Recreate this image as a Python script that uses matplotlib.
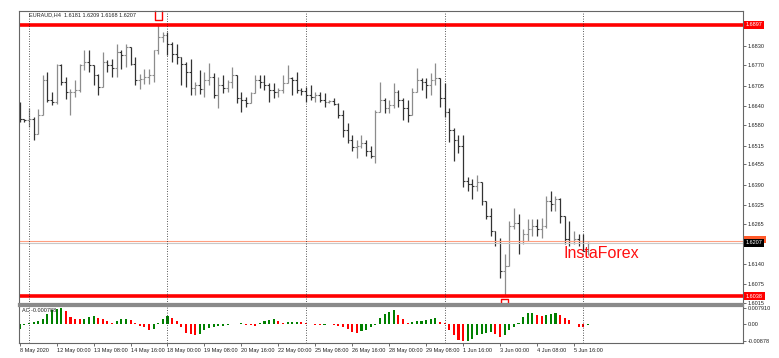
import numpy as np
import matplotlib
matplotlib.use("Agg")
import matplotlib.pyplot as plt
import matplotlib.transforms as mtrans
from matplotlib.patches import Rectangle

# === DATOS: EURAUD H4, 8 May 2020 -> 8 Jun 2020 ===
opens = [1.6627,1.6598,1.6595,1.6598,1.6553,1.6611,1.6722,1.6658,1.6652,1.6770,
         1.6716,1.6684,1.6684,1.6690,1.6770,1.6779,1.6770,1.6738,1.6700,1.6779,
         1.6770,1.6760,1.6811,1.6801,1.6827,1.6773,1.6722,1.6725,1.6732,1.6738,
         1.6817,1.6859,1.6865,1.6836,1.6804,1.6795,1.6773,1.6747,1.6697,1.6706,
         1.6694,1.6722,1.6732,1.6674,1.6706,1.6697,1.6716,1.6738,1.6665,1.6658,
         1.6649,1.6681,1.6722,1.6716,1.6706,1.6690,1.6684,1.6690,1.6713,1.6728,
         1.6722,1.6690,1.6687,1.6674,1.6668,1.6674,1.6658,1.6652,1.6655,1.6646,
         1.6611,1.6563,1.6531,1.6509,1.6515,1.6522,1.6499,1.6483,1.6620,1.6658,
         1.6633,1.6642,1.6684,1.6658,1.6633,1.6611,1.6684,1.6722,1.6716,1.6706,
         1.6722,1.6728,1.6665,1.6620,1.6563,1.6531,1.6515,1.6404,1.6394,1.6388,
         1.6398,1.6340,1.6293,1.6245,1.6213,1.6118,1.6134,1.6261,1.6270,1.6213,
         1.6236,1.6251,1.6261,1.6251,1.6261,1.6340,1.6331,1.6347,1.6293,1.6220,
         1.6213,1.6220,1.6213,1.6181]
highs = [1.6652,1.6598,1.6633,1.6604,1.6630,1.6738,1.6747,1.6684,1.6773,1.6773,
         1.6732,1.6694,1.6722,1.6773,1.6817,1.6817,1.6770,1.6741,1.6811,1.6785,
         1.6789,1.6836,1.6817,1.6836,1.6827,1.6795,1.6741,1.6757,1.6757,1.6817,
         1.6897,1.6875,1.6875,1.6843,1.6836,1.6795,1.6779,1.6789,1.6716,1.6754,
         1.6747,1.6776,1.6744,1.6732,1.6738,1.6722,1.6763,1.6738,1.6684,1.6668,
         1.6684,1.6738,1.6738,1.6738,1.6713,1.6713,1.6697,1.6738,1.6770,1.6732,
         1.6747,1.6697,1.6700,1.6706,1.6684,1.6684,1.6681,1.6658,1.6665,1.6649,
         1.6626,1.6585,1.6547,1.6531,1.6547,1.6531,1.6515,1.6626,1.6716,1.6665,
         1.6658,1.6713,1.6690,1.6665,1.6658,1.6697,1.6760,1.6728,1.6728,1.6744,
         1.6776,1.6728,1.6713,1.6633,1.6569,1.6547,1.6547,1.6414,1.6410,1.6420,
         1.6398,1.6340,1.6318,1.6245,1.6223,1.6172,1.6277,1.6318,1.6299,1.6251,
         1.6283,1.6283,1.6283,1.6286,1.6356,1.6372,1.6356,1.6350,1.6293,1.6277,
         1.6245,1.6236,1.6236,1.6209]
lows  = [1.6588,1.6588,1.6573,1.6534,1.6550,1.6611,1.6652,1.6642,1.6646,1.6706,
         1.6662,1.6611,1.6668,1.6684,1.6754,1.6747,1.6706,1.6674,1.6700,1.6747,
         1.6732,1.6732,1.6757,1.6763,1.6770,1.6706,1.6694,1.6709,1.6709,1.6716,
         1.6804,1.6843,1.6801,1.6779,1.6773,1.6706,1.6700,1.6674,1.6674,1.6677,
         1.6668,1.6706,1.6665,1.6633,1.6681,1.6684,1.6697,1.6649,1.6620,1.6636,
         1.6649,1.6681,1.6697,1.6690,1.6652,1.6665,1.6668,1.6681,1.6713,1.6674,
         1.6681,1.6674,1.6652,1.6658,1.6652,1.6652,1.6636,1.6649,1.6642,1.6601,
         1.6541,1.6522,1.6499,1.6474,1.6506,1.6483,1.6474,1.6458,1.6620,1.6617,
         1.6617,1.6633,1.6636,1.6595,1.6588,1.6611,1.6684,1.6690,1.6665,1.6674,
         1.6706,1.6636,1.6604,1.6525,1.6467,1.6490,1.6382,1.6372,1.6347,1.6372,
         1.6325,1.6283,1.6229,1.6197,1.6096,1.6038,1.6134,1.6251,1.6172,1.6204,
         1.6213,1.6229,1.6229,1.6223,1.6255,1.6308,1.6308,1.6270,1.6204,1.6197,
         1.6204,1.6197,1.6181,1.6168]
closes = [1.6598,1.6595,1.6598,1.6553,1.6611,1.6722,1.6658,1.6652,1.6770,1.6716,
          1.6684,1.6684,1.6690,1.6770,1.6779,1.6770,1.6738,1.6700,1.6779,1.6770,
          1.6760,1.6811,1.6801,1.6827,1.6773,1.6722,1.6725,1.6732,1.6738,1.6817,
          1.6859,1.6865,1.6836,1.6804,1.6795,1.6773,1.6747,1.6697,1.6706,1.6694,
          1.6722,1.6732,1.6674,1.6706,1.6697,1.6716,1.6738,1.6665,1.6658,1.6649,
          1.6681,1.6722,1.6716,1.6706,1.6690,1.6684,1.6690,1.6713,1.6728,1.6722,
          1.6690,1.6687,1.6674,1.6668,1.6674,1.6658,1.6652,1.6655,1.6646,1.6611,
          1.6563,1.6531,1.6509,1.6515,1.6522,1.6499,1.6483,1.6620,1.6658,1.6633,
          1.6642,1.6684,1.6658,1.6633,1.6611,1.6684,1.6722,1.6716,1.6706,1.6722,
          1.6728,1.6665,1.6620,1.6563,1.6531,1.6515,1.6404,1.6394,1.6388,1.6398,
          1.6340,1.6293,1.6245,1.6213,1.6118,1.6134,1.6261,1.6270,1.6213,1.6236,
          1.6251,1.6261,1.6251,1.6261,1.6340,1.6331,1.6347,1.6293,1.6220,1.6213,
          1.6220,1.6213,1.6181,1.6207]

# Accelerator Oscillator (AC)
ac = [-0.00245,-0.00049,0.00034,0.00083,0.00132,0.00245,0.00490,0.00686,0.00735,0.00791,
      0.00603,0.00328,0.00245,0.00211,0.00220,0.00328,0.00392,0.00294,0.00211,0.00113,
      0.00034,0.00113,0.00211,0.00230,0.00196,0.00034,-0.00098,-0.00162,-0.00294,-0.00270,
      0.00034,0.00211,0.00358,0.00294,0.00132,-0.00162,-0.00456,-0.00524,-0.00573,-0.00490,
      -0.00328,-0.00211,-0.00162,-0.00113,-0.00098,-0.00064,-0.00034,-0.00015,0.00015,-0.00064,
      -0.00088,-0.00098,0.00034,0.00132,0.00196,0.00206,0.00113,0.00049,0.00083,0.00098,
      0.00103,0.00064,0.00015,-0.00034,-0.00049,-0.00064,-0.00049,-0.00015,-0.00049,-0.00113,
      -0.00162,-0.00279,-0.00407,-0.00456,-0.00358,-0.00294,-0.00162,-0.00049,0.00279,0.00490,
      0.00573,0.00686,0.00441,0.00211,0.00049,0.00074,0.00113,0.00147,0.00181,0.00211,
      0.00279,0.00083,0.00015,-0.00294,-0.00573,-0.00784,-0.00878,-0.00833,-0.00735,-0.00573,
      -0.00490,-0.00456,-0.00407,-0.00490,-0.00652,-0.00539,-0.00328,-0.00162,0.00034,0.00328,
      0.00524,0.00539,0.00407,0.00358,0.00407,0.00490,0.00524,0.00441,0.00294,0.00162,
      -0.00034,-0.00162,-0.00172,-0.000788]

price_ticks = [1.6830, 1.6770, 1.6705, 1.6640, 1.6580, 1.6515, 1.6455, 1.6390,
               1.6325, 1.6265, 1.6140, 1.6075, 1.6015]
level_hi, level_lo = 1.6897, 1.6038
bid, ask = 1.6207, 1.6214
separators = [2, 32, 62, 92, 122]          # lunes 00:00
date_pos = [0] + list(range(8, 121, 8))
date_lbl = ["8 May 2020", "12 May 00:00", "13 May 08:00", "14 May 16:00", "18 May 00:00",
            "19 May 08:00", "20 May 16:00", "22 May 00:00", "25 May 08:00", "26 May 16:00",
            "28 May 00:00", "29 May 08:00", "1 Jun 16:00", "3 Jun 00:00", "4 Jun 08:00",
            "5 Jun 16:00"]

plt.rcParams['font.family'] = ['Liberation Sans', 'DejaVu Sans']
FS = 4.0
W, H = 779, 358
fig = plt.figure(figsize=(W / 100, H / 100), dpi=100)
ax = fig.add_axes([19 / W, (H - 304) / H, 724 / W, 293 / H])
ax2 = fig.add_axes([19 / W, (H - 343) / H, 724 / W, 37 / H])

n = len(closes)
x = np.arange(n)
o, h, l, c = map(np.array, (opens, highs, lows, closes))
up = c >= o
col = np.where(up, "#8c8c8c", "#333333")

# === BARRAS OHLC ===
ax.vlines(x, l, h, colors=col, lw=0.9)
ax.hlines(o, x - 0.4, x, colors=col, lw=0.8)
ax.hlines(c, x, x + 0.4, colors=col, lw=0.8)

xmin, xmax = -0.15, 156.6
ylo, yhi = 1.6013, 1.6941
ax.set_xlim(xmin, xmax)
ax.set_ylim(ylo, yhi)

ax.axhline(ask, color="#ff9f80", lw=0.8)
ax.axhline(bid, color="#c8c8c8", lw=0.8)
ax.axhline(level_hi, color="red", lw=2.6)
ax.axhline(level_lo, color="red", lw=2.6)

# marcadores de máximo / mínimo
ih, il = int(np.argmax(h)), int(np.argmin(l))
ax.plot([ih - 0.75, ih - 0.75, ih + 0.75, ih + 0.75], [yhi, 1.6913, 1.6913, yhi],
        color="red", lw=1.0, clip_on=False)
ax.plot([il - 0.75, il - 0.75, il + 0.75, il + 0.75], [ylo, 1.6030, 1.6030, ylo],
        color="red", lw=1.0, clip_on=False)

for s in separators:
    ax.axvline(s, color="#222222", lw=0.6, ls=(0, (1, 2)))
    ax2.axvline(s, color="#222222", lw=0.6, ls=(0, (1, 2)))

ax.yaxis.tick_right()
ax.set_yticks(price_ticks)
ax.set_yticklabels([f"{p:.4f}" for p in price_ticks])
ax.tick_params(axis="y", direction="out", length=2, width=0.6, colors="#555555",
               labelsize=FS, labelcolor="#222222", pad=1.5)
ax.set_xticks([])

tr = mtrans.blended_transform_factory(ax.transAxes, ax.transData)
def price_box(val, txt, fc):
    ax.text(1.004, val, txt, transform=tr, fontsize=FS, color="white", va="center",
            ha="left", zorder=5,
            bbox=dict(boxstyle="square,pad=0.3", fc=fc, ec="none"))
price_box(level_hi, f"{level_hi:.4f}", "red")
price_box(level_lo, f"{level_lo:.4f}", "red")
# caja del ask, casi tapada por la del bid
ax.add_patch(Rectangle((1.002, bid), 0.030, 0.0021, transform=tr, fc="#ff5a2a",
                       ec="none", clip_on=False, zorder=4))
price_box(bid, f"{bid:.4f}", "black")

ax.text(0.014, 0.986, f"EURAUD,H4  {o[-1]:.4f} {h[-1]:.4f} {l[-1]:.4f} {c[-1]:.4f}",
        transform=ax.transAxes, fontsize=FS, color="#222222", va="center", ha="left")
ax.text(0.7514, 0.158, "InstaForex", transform=ax.transAxes, fontsize=11.5,
        color="#ff1010", va="baseline", ha="left")

for sp in ("top", "left", "right"):
    ax.spines[sp].set_color("#666666")
    ax.spines[sp].set_linewidth(0.8)
ax.spines["bottom"].set_color("#8a8a8a")
ax.spines["bottom"].set_linewidth(1.6)

# === AC ===
acv = np.array(ac)
diff = np.diff(acv, prepend=acv[0] - 1)
ac_col = np.where(diff > 0, "#008000", "#ff0000")
ax2.bar(x, acv, width=0.45, color=ac_col, linewidth=0)
ax2.set_xlim(xmin, xmax)
ax2.set_ylim(-0.00952, 0.00865)
ax2.yaxis.tick_right()
ax2.set_yticks([0.00791, 0.0, -0.00878])
ax2.set_yticklabels(["0.007910", "0.00", "-0.00878"])
ax2.tick_params(axis="y", direction="out", length=2, width=0.6, colors="#555555",
                labelsize=FS, labelcolor="#222222", pad=1.5)
ax2.set_xticks(date_pos)
ax2.set_xticklabels(date_lbl)
ax2.tick_params(axis="x", direction="out", length=2, width=0.6, colors="#555555",
                labelsize=FS, labelcolor="#222222", pad=1.5)
for lb in ax2.get_xticklabels():
    lb.set_ha("left")
ax2.text(0.004, 0.88, f"AC {ac[-1]:.6f}", transform=ax2.transAxes, fontsize=FS,
         color="#222222", va="center", ha="left")
for sp in ("bottom", "left", "right"):
    ax2.spines[sp].set_color("#666666")
    ax2.spines[sp].set_linewidth(0.8)
ax2.spines["top"].set_color("#8a8a8a")
ax2.spines["top"].set_linewidth(1.6)

fig.savefig("out.png", dpi=100, facecolor="white")
